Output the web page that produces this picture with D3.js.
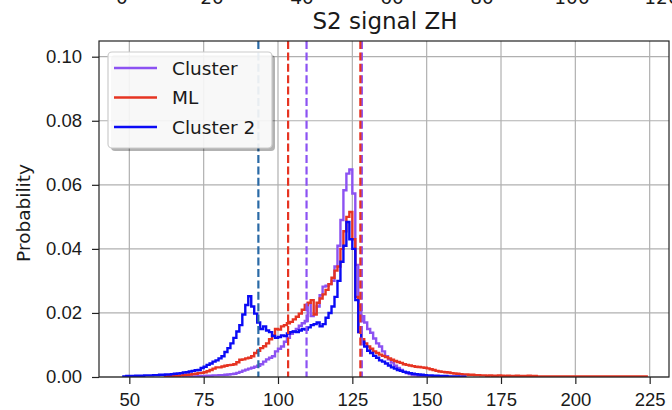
<!DOCTYPE html>
<html>
<head>
<meta charset="utf-8">
<script src="https://cdn.jsdelivr.net/npm/d3@7/dist/d3.min.js"></script>
<style>
  body { margin: 0; background: #fff; }
  svg { font-family: 'DejaVu Sans', sans-serif; }
  .axis text { font-size: 18.5px; fill: #1a1a1a; }
  .axis path, .axis line { stroke: #222; stroke-width: 1.2; }
</style>
</head>
<body>
<svg id="chart" width="672" height="410"></svg>
<script>
/* series names and colours (legend order) */
const seriesNames = ['Cluster', 'ML', 'Cluster 2']
const seriesColors = ['#8c52f2', '#e63422', '#0a0af5']

/* histogram bins are 1 unit wide, each series starts at its own left edge */
const binWidth = 1

/* Cluster (purple), first bin edge at 68 */
const clusterStart = 68
const clusterVals = [
  0.0001, 0.0001, 0.0002, 0.0002, 0.0002, 0.0003, 0.0003, 0.0003, 0.0004, 0.0004,
  0.0005, 0.0005, 0.0006, 0.0006, 0.0007, 0.0008, 0.0009, 0.0010, 0.0013, 0.0016,
  0.0020, 0.0023, 0.0026, 0.0029, 0.0032, 0.0035, 0.0040, 0.0048, 0.0055, 0.0060,
  0.0065, 0.0080, 0.0088, 0.0095, 0.0110, 0.0122, 0.0135, 0.0142, 0.0150, 0.0160,
  0.0168, 0.0175, 0.0230, 0.0190, 0.0198, 0.0220, 0.0255, 0.0282, 0.0285, 0.0290,
  0.0300, 0.0345, 0.0410, 0.0490, 0.0583, 0.0635, 0.0648, 0.0573, 0.0350, 0.0220,
  0.0190, 0.0170, 0.0150, 0.0138, 0.0120, 0.0105, 0.0095, 0.0080, 0.0065, 0.0055,
  0.0045, 0.0035, 0.0028, 0.0022, 0.0016, 0.0012, 0.0009, 0.0006, 0.0005, 0.0004,
  0.0003, 0.0002, 0.0002, 0.0001, 0.0001
]

/* ML (red), first bin edge at 62 */
const mlStart = 62
const mlVals = [
  0.0002, 0.0003, 0.0003, 0.0004, 0.0004, 0.0005, 0.0006, 0.0007, 0.0008, 0.0009,
  0.0010, 0.0012, 0.0013, 0.0015, 0.0018, 0.0022, 0.0026, 0.0030, 0.0030, 0.0033,
  0.0035, 0.0037, 0.0038, 0.0040, 0.0046, 0.0054, 0.0055, 0.0058, 0.0060, 0.0065,
  0.0075, 0.0082, 0.0090, 0.0096, 0.0105, 0.0118, 0.0130, 0.0150, 0.0148, 0.0158,
  0.0162, 0.0168, 0.0172, 0.0180, 0.0188, 0.0198, 0.0210, 0.0225, 0.0232, 0.0240,
  0.0195, 0.0232, 0.0245, 0.0258, 0.0272, 0.0290, 0.0310, 0.0332, 0.0345, 0.0400,
  0.0455, 0.0500, 0.0515, 0.0430, 0.0250, 0.0140, 0.0118, 0.0105, 0.0095, 0.0088,
  0.0080, 0.0075, 0.0070, 0.0066, 0.0062, 0.0058, 0.0054, 0.0050, 0.0047, 0.0044,
  0.0040, 0.0038, 0.0036, 0.0034, 0.0032, 0.0031, 0.0030, 0.0029, 0.0027, 0.0024,
  0.0022, 0.0019, 0.0017, 0.0016, 0.0015, 0.0014, 0.0012, 0.0011, 0.0010, 0.0009,
  0.0008, 0.0008, 0.0007, 0.0007, 0.0006, 0.0006, 0.0005, 0.0005, 0.0004, 0.0005,
  0.0004, 0.0004, 0.0005, 0.0004, 0.0003, 0.0004, 0.0003, 0.0003, 0.0004, 0.0003,
  0.0003, 0.0003, 0.0004, 0.0003, 0.0003, 0.0002, 0.0002, 0.0002, 0.0002, 0.0002,
  0.0002, 0.0002, 0.0002, 0.0002, 0.0002, 0.0002, 0.0002, 0.0002, 0.0002, 0.0002,
  0.0002, 0.0002, 0.0002, 0.0002, 0.0002, 0.0002, 0.0002, 0.0002, 0.0002, 0.0002,
  0.0002, 0.0002, 0.0002, 0.0002, 0.0002, 0.0002, 0.0002, 0.0002, 0.0002, 0.0002,
  0.0002, 0.0002
]

/* Cluster 2 (blue), first bin edge at 48 */
const cluster2Start = 48
const cluster2Vals = [
  0.0002, 0.0003, 0.0003, 0.0003, 0.0004, 0.0004, 0.0004, 0.0005, 0.0005, 0.0005,
  0.0006, 0.0006, 0.0007, 0.0007, 0.0008, 0.0008, 0.0009, 0.0010, 0.0011, 0.0012,
  0.0014, 0.0015, 0.0017, 0.0019, 0.0021, 0.0022, 0.0028, 0.0032, 0.0038, 0.0042,
  0.0048, 0.0052, 0.0058, 0.0065, 0.0078, 0.0090, 0.0105, 0.0122, 0.0142, 0.0162,
  0.0195, 0.0225, 0.0252, 0.0220, 0.0198, 0.0170, 0.0150, 0.0158, 0.0145, 0.0140,
  0.0128, 0.0122, 0.0125, 0.0130, 0.0128, 0.0136, 0.0140, 0.0142, 0.0140, 0.0145,
  0.0150, 0.0148, 0.0155, 0.0162, 0.0165, 0.0170, 0.0158, 0.0165, 0.0185, 0.0200,
  0.0220, 0.0250, 0.0300, 0.0360, 0.0410, 0.0484, 0.0430, 0.0400, 0.0240, 0.0140,
  0.0110, 0.0095, 0.0082, 0.0075, 0.0066, 0.0060, 0.0052, 0.0048, 0.0042, 0.0036,
  0.0030, 0.0026, 0.0022, 0.0019, 0.0016, 0.0014, 0.0012, 0.0010, 0.0009, 0.0008,
  0.0007, 0.0006, 0.0005, 0.0005, 0.0004, 0.0004, 0.0003, 0.0003, 0.0003, 0.0002,
  0.0002, 0.0002, 0.0002, 0.0001, 0.0001
]

/* dashed vertical reference lines */
const vlineVals = [93.4, 103.4, 109.6, 128.2, 127.7]
const vlineColors = ['#2a6aa6', '#e63422', '#8c52f2', '#8c52f2', '#e63422']

/* axis ticks */
const xTicks = [50, 75, 100, 125, 150, 175, 200, 225]
const yTicks = [0, 0.02, 0.04, 0.06, 0.08, 0.10]
/* tick labels of the panel above, cut by the top edge */
const topTicks = ['0', '20', '40', '60', '80', '100', '120']
const topTickVals = [0, 20, 40, 60, 80, 100, 120]

const title = 'S2 signal ZH'
const yLabel = 'Probability'

/* plot area */
const margin = { top: 41, left: 99, right: 3, bottom: 33 }
const width = 672 - margin.left - margin.right
const height = 410 - margin.top - margin.bottom

const svg = d3.select('#chart')

const xScale = d3.scaleLinear().domain([39.8, 231.5]).range([margin.left, margin.left + width])
const yScale = d3.scaleLinear().domain([0, 0.1049]).range([margin.top + height, margin.top])

/* clip for marks */
svg.append('clipPath').attr('id', 'plot-clip')
  .append('rect')
  .attr('x', margin.left).attr('y', margin.top)
  .attr('width', width).attr('height', height)

/* grid */
const grid = svg.append('g').attr('class', 'grid')
grid.selectAll('.gx').data(xTicks).join('line')
  .attr('x1', (d) => xScale(d)).attr('x2', (d) => xScale(d))
  .attr('y1', margin.top).attr('y2', margin.top + height)
  .attr('stroke', '#b0b0b0').attr('stroke-width', 1.2)
grid.selectAll('.gy').data(yTicks).join('line')
  .attr('y1', (d) => yScale(d)).attr('y2', (d) => yScale(d))
  .attr('x1', margin.left).attr('x2', margin.left + width)
  .attr('stroke', '#b0b0b0').attr('stroke-width', 1.2)

/* step histograms */
function stepPoints(start, vals) {
  const pts = [[start, 0]]
  vals.forEach((v, i) => {
    pts.push([start + i * binWidth, v])
    pts.push([start + (i + 1) * binWidth, v])
  })
  pts.push([start + vals.length * binWidth, 0])
  return pts
}

const histData = [
  stepPoints(clusterStart, clusterVals),
  stepPoints(mlStart, mlVals),
  stepPoints(cluster2Start, cluster2Vals)
]

const line = d3.line().x((d) => xScale(d[0])).y((d) => yScale(d[1]))

svg.append('g').attr('clip-path', 'url(#plot-clip)')
  .selectAll('path').data(histData).join('path')
  .attr('d', line)
  .attr('fill', 'none')
  .attr('stroke', (d, i) => seriesColors[i])
  .attr('stroke-width', 2.4)
  .attr('stroke-linejoin', 'miter')

/* dashed lines */
svg.append('g').attr('clip-path', 'url(#plot-clip)')
  .selectAll('line').data(vlineVals).join('line')
  .attr('x1', (d) => xScale(d)).attr('x2', (d) => xScale(d))
  .attr('y1', margin.top).attr('y2', margin.top + height)
  .attr('stroke', (d, i) => vlineColors[i])
  .attr('stroke-width', 2.2)
  .attr('stroke-dasharray', '8,3.4')

/* axes */
const xAxis = d3.axisBottom(xScale).tickValues(xTicks).tickSize(7).tickPadding(9)
  .tickFormat(d3.format('d'))
const yAxis = d3.axisLeft(yScale).tickValues(yTicks).tickSize(7).tickPadding(10)
  .tickFormat(d3.format('.2f'))

svg.append('g').attr('class', 'axis')
  .attr('transform', `translate(0,${margin.top + height})`)
  .call(xAxis)
  .call((g) => g.select('.domain').remove())
svg.append('g').attr('class', 'axis')
  .attr('transform', `translate(${margin.left},0)`)
  .call(yAxis)
  .call((g) => g.select('.domain').remove())

/* frame */
svg.append('rect')
  .attr('x', margin.left).attr('y', margin.top)
  .attr('width', width).attr('height', height)
  .attr('fill', 'none').attr('stroke', '#222').attr('stroke-width', 1.2)

/* title and y label */
svg.append('text')
  .attr('x', 385).attr('y', 29)
  .attr('text-anchor', 'middle')
  .style('font-size', '23px').style('fill', '#1a1a1a')
  .text(title)

svg.append('text')
  .attr('transform', 'translate(30,213) rotate(-90)')
  .attr('text-anchor', 'middle')
  .style('font-size', '18.5px').style('fill', '#1a1a1a')
  .text(yLabel)

/* cut-off tick labels from the panel above */
const topScale = d3.scaleLinear().domain([0, 20]).range([122, 212])
svg.append('g').selectAll('text').data(topTicks).join('text')
  .attr('x', (d, i) => topScale(topTickVals[i]))
  .attr('y', 4)
  .attr('text-anchor', 'middle')
  .style('font-size', '18.5px').style('fill', '#1a1a1a')
  .text((d) => d)

/* legend */
const legend = svg.append('g').attr('class', 'legend')
legend.append('rect')
  .attr('x', 111).attr('y', 55).attr('width', 164).attr('height', 96)
  .attr('rx', 4).attr('fill', '#000').attr('opacity', 0.3)
legend.append('rect')
  .attr('x', 108).attr('y', 52).attr('width', 164).attr('height', 96)
  .attr('rx', 4).attr('fill', '#fff').attr('fill-opacity', 0.9)
  .attr('stroke', '#cccccc').attr('stroke-width', 1.2)

const rowY = d3.scalePoint().domain(seriesNames).range([68, 127])
legend.selectAll('.lg-line').data(seriesNames).join('line')
  .attr('x1', 114).attr('x2', 157)
  .attr('y1', (d) => rowY(d)).attr('y2', (d) => rowY(d))
  .attr('stroke', (d, i) => seriesColors[i]).attr('stroke-width', 2.4)
legend.selectAll('.lg-text').data(seriesNames).join('text')
  .attr('x', 172).attr('y', (d) => rowY(d)).attr('dy', '0.36em')
  .style('font-size', '18.5px').style('fill', '#1a1a1a')
  .text((d) => d)
</script>
</body>
</html>
